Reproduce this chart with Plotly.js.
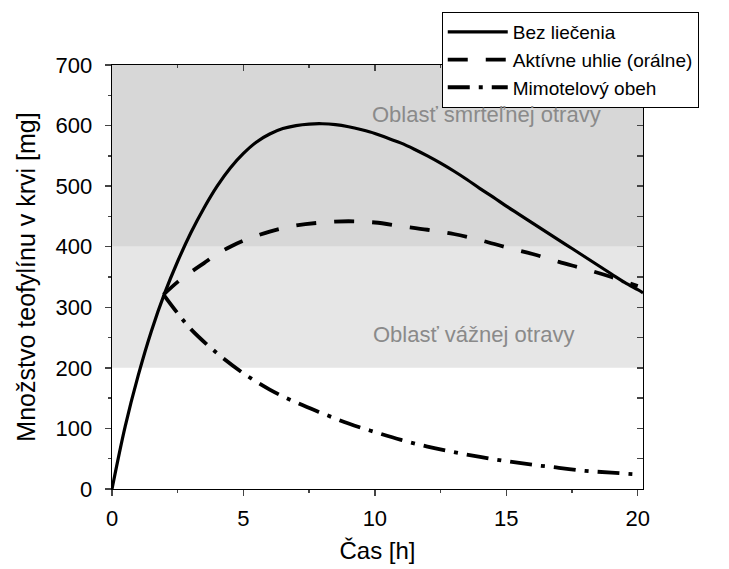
<!DOCTYPE html>
<html>
<head>
<meta charset="utf-8">
<script src="https://cdn.plot.ly/plotly-3.0.1.min.js"></script>
<style>
html,body{margin:0;padding:0;background:#fff;}
#chart{width:729px;height:569px;}
</style>
</head>
<body>
<div id="chart"></div>
<script>
// Bez liečenia (no treatment)
var tNone = [0, 0.5, 1, 1.5, 2, 2.5, 3, 3.5, 4, 4.5, 5, 5.5, 6, 6.5, 7, 7.5, 8, 8.5, 9, 9.5, 10, 10.5, 11, 11.5, 12, 12.5, 13, 13.5, 14, 14.5, 15, 15.5, 16, 16.5, 17, 17.5, 18, 18.5, 19, 19.5, 20, 20.2];
var vNone = [0, 103, 188, 261, 323, 376, 423, 464, 500, 530, 554, 573, 586, 595, 600, 602.5, 603, 601.5, 598, 593, 587, 579, 571, 561, 550, 538, 525, 511, 496, 482, 467, 453, 439, 425, 411, 397, 383, 369, 355, 341, 329, 324];

// Aktívne uhlie (orálne) (activated charcoal)
var tCharcoal = [1.96, 2.5, 3, 3.5, 4, 4.5, 5, 6, 7, 8, 9, 10, 11, 12, 13, 14, 15, 16, 17, 18, 19, 20];
var vCharcoal = [321, 342, 358, 373, 388, 400, 410, 425, 435, 440, 442, 440, 434, 428, 421, 411, 399, 388, 375, 363, 350, 335];

// Mimotelový obeh (extracorporeal circulation)
var tExtra = [1.96, 2.5, 3, 4, 5, 6, 7, 8, 9, 10, 11, 12, 13, 14, 15, 16, 17, 18, 19, 19.95];
var vExtra = [321, 290, 264, 224, 191, 164, 143, 125, 108, 94, 81, 70, 61, 53, 46, 40, 35, 30, 27, 24];

var seriesNames = ['Bez liečenia', 'Aktívne uhlie (orálne)', 'Mimotelový obeh'];

// Toxicity zones [lower, upper] and their labels
var zoneSerious = [200, 400];
var zoneLethal = [400, 700];
var zoneLabels = ['Oblasť smrteľnej otravy', 'Oblasť vážnej otravy'];

var xTickVals = [0, 5, 10, 15, 20];
var yTickVals = [0, 100, 200, 300, 400, 500, 600, 700];

var FONT = 'Arial, "Liberation Sans", Helvetica, sans-serif';
var xRange = [0, 20.2];
var yRange = [0, 700];

var traces = [
  {x: tNone, y: vNone, name: seriesNames[0], mode: 'lines',
   line: {color: '#000', width: 3.2, shape: 'spline', smoothing: 1}},
  {x: tCharcoal, y: vCharcoal, name: seriesNames[1], mode: 'lines',
   line: {color: '#000', width: 3.8, dash: '20px,18px', shape: 'spline', smoothing: 1}},
  {x: tExtra, y: vExtra, name: seriesNames[2], mode: 'lines',
   line: {color: '#000', width: 3.8, dash: '22px,9px,4px,9px', shape: 'spline', smoothing: 1}},
  {x: [null], y: [null], xaxis: 'x2', yaxis: 'y2', showlegend: false, hoverinfo: 'skip', mode: 'lines'}
];

var layout = {
  width: 729, height: 569,
  margin: {l: 112, r: 86, t: 63, b: 80},
  paper_bgcolor: '#fff', plot_bgcolor: 'rgba(0,0,0,0)',
  font: {family: FONT, color: '#000', size: 22},
  showlegend: true,
  legend: {
    x: 0.621, y: 1.125, xanchor: 'left', yanchor: 'top',
    bgcolor: '#fff', bordercolor: '#000', borderwidth: 1,
    font: {family: FONT, size: 19, color: '#000'},
    itemwidth: 60, tracegroupgap: 0
  },
  xaxis: {
    range: xRange, tickvals: xTickVals, ticks: 'outside', ticklen: 6, tickwidth: 1.3,
    showline: true, linecolor: '#000', linewidth: 1.3, showgrid: false, zeroline: false,
    tickfont: {family: FONT, size: 22}, ticklabelstandoff: 3,
    minor: {dtick: 2.5, ticks: 'outside', ticklen: 3, tickwidth: 1.3, showgrid: false},
    title: {text: 'Čas [h]', font: {family: FONT, size: 24}, standoff: 12},
    automargin: false, fixedrange: true
  },
  yaxis: {
    range: yRange, tickvals: yTickVals, ticks: 'outside', ticklen: 6, tickwidth: 1.3,
    showline: true, linecolor: '#000', linewidth: 1.3, showgrid: false, zeroline: false,
    tickfont: {family: FONT, size: 22}, ticklabelstandoff: 8,
    minor: {dtick: 50, ticks: 'outside', ticklen: 3, tickwidth: 1.3, showgrid: false},
    title: {text: 'Množstvo teofylínu v krvi [mg]', font: {family: FONT, size: 25}, standoff: 12},
    automargin: false, fixedrange: true
  },
  xaxis2: {
    overlaying: 'x', side: 'top', anchor: 'y2', range: xRange, tickvals: xTickVals,
    ticks: 'inside', ticklen: 6, tickwidth: 1.3, showticklabels: false,
    showline: true, linecolor: '#000', linewidth: 1.3, showgrid: false, zeroline: false,
    minor: {dtick: 2.5, ticks: 'inside', ticklen: 3, tickwidth: 1.3, showgrid: false},
    automargin: false, fixedrange: true
  },
  yaxis2: {
    overlaying: 'y', side: 'right', anchor: 'x2', range: yRange, tickvals: yTickVals,
    ticks: 'inside', ticklen: 6, tickwidth: 1.3, showticklabels: false,
    showline: true, linecolor: '#000', linewidth: 1.3, showgrid: false, zeroline: false,
    minor: {dtick: 50, ticks: 'inside', ticklen: 6, tickwidth: 1.3, showgrid: false},
    automargin: false, fixedrange: true
  },
  shapes: [
    {type: 'rect', xref: 'paper', yref: 'y', x0: 0, x1: 1, y0: zoneLethal[0], y1: zoneLethal[1],
     fillcolor: '#d7d7d7', line: {width: 0}, layer: 'below'},
    {type: 'rect', xref: 'paper', yref: 'y', x0: 0, x1: 1, y0: zoneSerious[0], y1: zoneSerious[1],
     fillcolor: '#e6e6e6', line: {width: 0}, layer: 'below'}
  ],
  annotations: [
    {x: 14.26, y: 619, xref: 'x', yref: 'y', text: zoneLabels[0], showarrow: false,
     font: {family: FONT, size: 22, color: '#8a8a8a'}},
    {x: 13.74, y: 255, xref: 'x', yref: 'y', text: zoneLabels[1], showarrow: false,
     font: {family: FONT, size: 22, color: '#8a8a8a'}}
  ]
};

Plotly.newPlot('chart', traces, layout, {staticPlot: true, displayModeBar: false});
</script>
</body>
</html>
